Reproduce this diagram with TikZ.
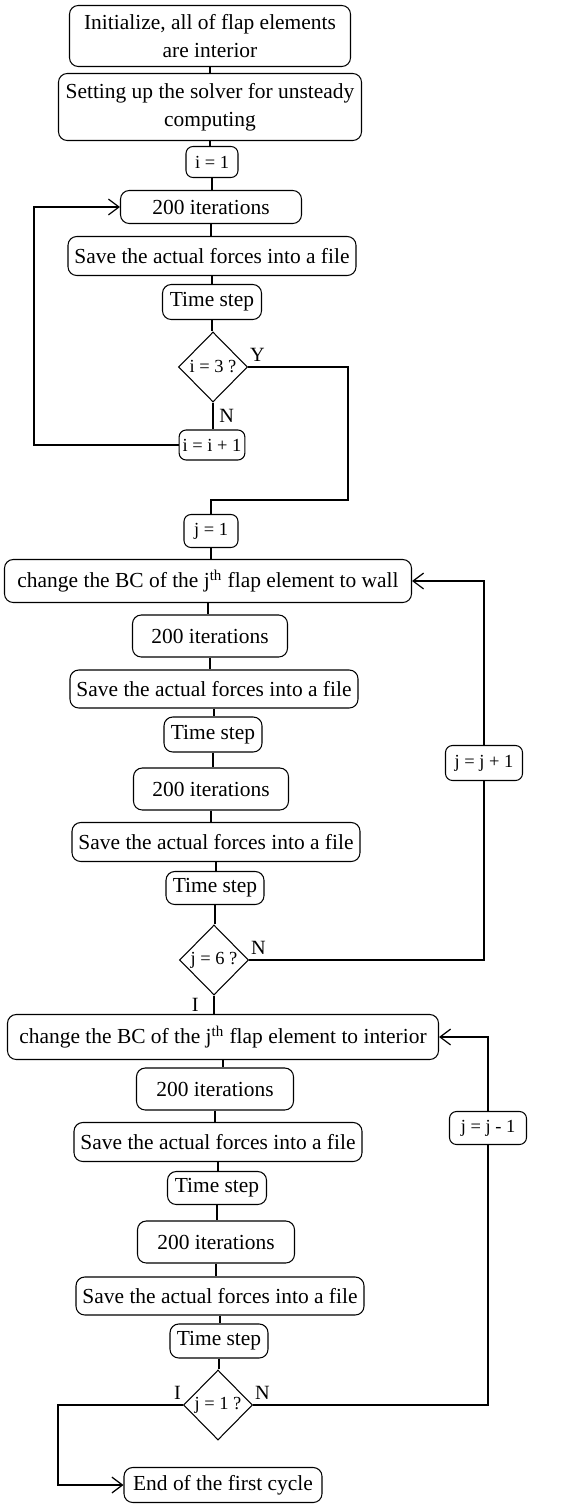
\documentclass[tikz,border=0pt]{standalone}
\usepackage{fontspec}
\setmainfont{Liberation Serif}
\usetikzlibrary{shapes.geometric,arrows.meta}

\begin{document}
\begin{tikzpicture}[
  procbox/.style={draw, line width=0.6pt, rounded corners=5pt, align=center, inner sep=2pt, font=\fontsize{12.2}{16}\selectfont},
  countbox/.style={draw, line width=0.6pt, rounded corners=4pt, inner sep=2pt, font=\fontsize{10.5}{12}\selectfont},
  testbox/.style={draw, diamond, line width=0.6pt, inner sep=0pt, minimum width=1.38cm, minimum height=1.4cm, font=\fontsize{10.5}{12}\selectfont},
  flow/.style={line width=1.2pt},
  tag/.style={inner sep=1pt, font=\fontsize{11.5}{13}\selectfont},
  >={Straight Barb[length=6pt,width=9pt,line width=0.7pt]}
]
\useasboundingbox (0,0) rectangle (11.48,-30.08);
\node[procbox, minimum width=5.62cm, minimum height=1.22cm] (init) at (4.2,-0.72) {Initialize, all of flap elements\\ are interior};
\node[procbox, minimum width=6.06cm, minimum height=1.34cm] (setup) at (4.2,-2.14) {Setting up the solver for unsteady\\ computing};
\node[countbox, minimum width=1.04cm, minimum height=0.62cm] (ione) at (4.24,-3.24) {i = 1};
\node[procbox, minimum width=3.62cm, minimum height=0.66cm] (iterA) at (4.22,-4.14) {200 iterations};
\node[procbox, minimum width=5.76cm, minimum height=0.78cm] (saveA) at (4.24,-5.12) {Save the actual forces into a file};
\node[procbox, minimum width=1.98cm, minimum height=0.7cm] (stepA) at (4.24,-6.04) {Time step};
\node[testbox] (testi) at (4.26,-7.34) {i = 3 ?};
\node[countbox, minimum width=1.3cm, minimum height=0.6cm] (inci) at (4.24,-8.9) {i = i + 1};
\node[countbox, minimum width=1.08cm, minimum height=0.66cm] (jone) at (4.22,-10.62) {j = 1};
\node[procbox, minimum width=8.14cm, minimum height=0.86cm] (wall) at (4.16,-11.62) {change the BC of the j\textsuperscript{th}\ flap element to wall};
\node[procbox, minimum width=3.1cm, minimum height=0.84cm] (iterB) at (4.2,-12.72) {200 iterations};
\node[procbox, minimum width=5.76cm, minimum height=0.76cm] (saveB) at (4.28,-13.78) {Save the actual forces into a file};
\node[procbox, minimum width=1.96cm, minimum height=0.7cm] (stepB) at (4.26,-14.69) {Time step};
\node[procbox, minimum width=3.1cm, minimum height=0.84cm] (iterC) at (4.22,-15.78) {200 iterations};
\node[procbox, minimum width=5.76cm, minimum height=0.78cm] (saveC) at (4.32,-16.84) {Save the actual forces into a file};
\node[procbox, minimum width=1.96cm, minimum height=0.66cm] (stepC) at (4.3,-17.76) {Time step};
\node[testbox] (testj) at (4.28,-19.2) {j = 6 ?};
\node[countbox, minimum width=1.54cm, minimum height=0.7cm] (incj) at (9.68,-15.26) {j = j + 1};
\node[procbox, minimum width=8.62cm, minimum height=0.9cm] (inter) at (4.46,-20.74) {change the BC of the j\textsuperscript{th} flap element to interior};
\node[procbox, minimum width=3.14cm, minimum height=0.84cm] (iterD) at (4.3,-21.78) {200 iterations};
\node[procbox, minimum width=5.76cm, minimum height=0.78cm] (saveD) at (4.36,-22.84) {Save the actual forces into a file};
\node[procbox, minimum width=1.98cm, minimum height=0.66cm] (stepD) at (4.34,-23.76) {Time step};
\node[procbox, minimum width=3.14cm, minimum height=0.84cm] (iterE) at (4.32,-24.84) {200 iterations};
\node[procbox, minimum width=5.76cm, minimum height=0.76cm] (saveE) at (4.4,-25.92) {Save the actual forces into a file};
\node[procbox, minimum width=1.96cm, minimum height=0.68cm] (stepE) at (4.38,-26.82) {Time step};
\node[testbox] (testone) at (4.36,-28.1) {j = 1 ?};
\node[countbox, minimum width=1.54cm, minimum height=0.66cm] (decj) at (9.76,-22.56) {j = j - 1};
\node[procbox, minimum width=3.96cm, minimum height=0.7cm] (finish) at (4.46,-29.7) {End of the first cycle};
\coordinate (iback) at (0.68,-6.5);
\coordinate (yturn) at (6.96,-10.0);
\coordinate (endturn) at (1.16,-29.0);
\draw[flow] (init.south) -- (init.south |- setup.north);
\draw[flow] (setup.south) -- (setup.south |- ione.north);
\draw[flow] (ione.south) -- (ione.south |- iterA.north);
\draw[flow] (iterA.south) -- (iterA.south |- saveA.north);
\draw[flow] (saveA.south) -- (saveA.south |- stepA.north);
\draw[flow] (stepA.south) -- (stepA.south |- testi.north);
\draw[flow] (testi.south) -- (testi.south |- inci.north) node[midway, right=2pt, tag] (noi) {N};
\draw[flow, ->] (inci.west) -| (iback) |- (iterA.west);
\draw[flow] (testi.east) -| (yturn) -| (jone.north);
\node[tag, anchor=south west] (yesi) at ([yshift=2pt]testi.east) {Y};
\draw[flow] (jone.south) -- (jone.south |- wall.north);
\draw[flow] (wall.south) -- (wall.south |- iterB.north);
\draw[flow] (iterB.south) -- (iterB.south |- saveB.north);
\draw[flow] (saveB.south) -- (saveB.south |- stepB.north);
\draw[flow] (stepB.south) -- (stepB.south |- iterC.north);
\draw[flow] (iterC.south) -- (iterC.south |- saveC.north);
\draw[flow] (saveC.south) -- (saveC.south |- stepC.north);
\draw[flow] (stepC.south) -- (stepC.south |- testj.north);
\draw[flow] (testj.east) -| (incj.south);
\draw[flow, ->] (incj.north) |- (wall.east);
\node[tag, anchor=south west] (noj) at ([yshift=2pt]testj.east) {N};
\draw[flow] (testj.south) -- (testj.south |- inter.north) node[midway, left=0.25cm, tag] (yesj) {I};
\draw[flow] (inter.south) -- (inter.south |- iterD.north);
\draw[flow] (iterD.south) -- (iterD.south |- saveD.north);
\draw[flow] (saveD.south) -- (saveD.south |- stepD.north);
\draw[flow] (stepD.south) -- (stepD.south |- iterE.north);
\draw[flow] (iterE.south) -- (iterE.south |- saveE.north);
\draw[flow] (saveE.south) -- (saveE.south |- stepE.north);
\draw[flow] (stepE.south) -- (stepE.south |- testone.north);
\draw[flow] (testone.east) -| (decj.south);
\draw[flow, ->] (decj.north) |- (inter.east);
\node[tag, anchor=south west] (noone) at ([yshift=2pt]testone.east) {N};
\draw[flow, ->] (testone.west) -| (endturn) |- (finish.west);
\node[tag, anchor=south east] (yesone) at ([yshift=2pt]testone.west) {I};
\end{tikzpicture}
\end{document}
